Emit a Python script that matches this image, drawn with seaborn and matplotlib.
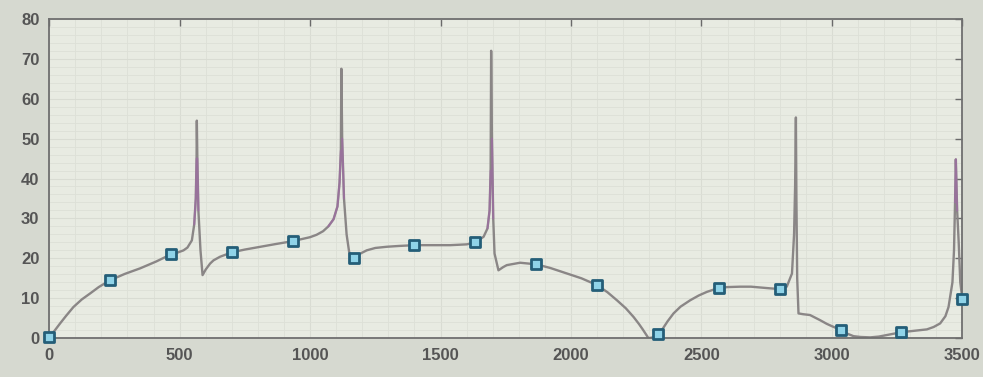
import numpy as np
import pandas as pd
import seaborn as sns
import matplotlib.pyplot as plt
from matplotlib.ticker import MultipleLocator

# curve (x, y)
curve_x = [0, 20, 42, 65, 93, 125, 157, 190, 233, 290, 349, 410, 467, 490, 515, 530,
           547, 556, 562, 565, 566,
           568, 572, 580, 588, 600, 617, 630, 655, 700, 750, 809, 870, 933, 1000,
           1025, 1050, 1070, 1090, 1105, 1113, 1118, 1120,
           1123, 1130, 1140, 1150, 1167, 1180, 1190, 1217, 1250, 1294, 1340, 1400,
           1537, 1600, 1633, 1665, 1680, 1688, 1692, 1694,
           1697, 1702, 1707, 1722, 1740, 1754, 1805, 1867, 1920, 1984, 2040, 2100,
           2140, 2176, 2210, 2240, 2260, 2275, 2285, 2297, 2315, 2333, 2350, 2370,
           2393, 2420, 2457, 2490, 2521, 2567, 2600, 2648, 2690, 2725, 2760, 2800,
           2827, 2847, 2855, 2859, 2862,
           2864, 2867, 2872, 2890, 2916, 2955, 2980, 3000, 3033, 3060, 3083, 3110,
           3147, 3180, 3211, 3240, 3267, 3310, 3364, 3390, 3415, 3435, 3447, 3462,
           3468, 3472, 3475,
           3480, 3486, 3492, 3500]
curve_y = [0.3, 1.8, 3.7, 5.6, 7.8, 9.7, 11.2, 12.8, 14.5, 16.1, 17.5, 19.2, 21.0, 21.4, 22.0, 22.7,
           24.5, 28.5, 35, 45, 54.5,
           45, 32, 22, 15.8, 17.2, 18.7, 19.5, 20.4, 21.5, 22.2, 22.9, 23.6, 24.3, 25.3,
           25.9, 26.8, 28.0, 29.8, 33, 39, 47, 67.5,
           50, 35, 26, 21.5, 20.0, 20.6, 21.1, 22.0, 22.6, 22.9, 23.1, 23.3,
           23.3, 23.5, 24.0, 25.4, 27.5, 32, 42, 72,
           50, 30, 21.2, 17.0, 17.8, 18.3, 18.9, 18.5, 17.6, 16.2, 15.0, 13.3,
           11.5, 9.5, 7.5, 5.3, 3.6, 2.2, 1.2, 0.0, 0.2, 1.0, 2.2, 4.2,
           6.2, 7.9, 9.5, 10.7, 11.6, 12.6, 12.8, 12.9, 12.9, 12.7, 12.5, 12.3,
           12.9, 16.2, 26, 38, 55.3,
           35, 15, 6.2, 6.0, 5.8, 4.5, 3.6, 3.0, 2.1, 1.1, 0.5, 0.3,
           0.2, 0.4, 0.8, 1.2, 1.5, 1.8, 2.2, 2.8, 3.7, 5.5, 7.8, 14,
           22, 34, 44.8,
           32, 24, 14, 9.8]

# sample points (squares)
marker_x = [0, 233.3, 466.7, 700, 933.3, 1166.7, 1400, 1633.3, 1866.7, 2100,
            2333.3, 2566.7, 2800, 3033.3, 3266.7, 3500]
marker_y = [0.3, 14.5, 21.0, 21.5, 24.3, 20.0, 23.3, 24.0, 18.5, 13.3,
            1.0, 12.6, 12.3, 2.1, 1.5, 9.8]

x_ticks = [0, 500, 1000, 1500, 2000, 2500, 3000, 3500]
y_ticks = [0, 10, 20, 30, 40, 50, 60, 70, 80]

fig_bg = '#d6d9d0'
ax_bg = '#e8ebe2'

sns.set_theme(style="white")
plt.rcParams['font.family'] = ['Liberation Sans', 'DejaVu Sans']

df = pd.DataFrame({'x': curve_x, 'y': curve_y})
# middle of the spike upstrokes looks purple in the picture
df['spike'] = df['y'].where((df['y'] >= 27) & (df['y'] <= 50))
df_m = pd.DataFrame({'x': marker_x, 'y': marker_y})

fig = plt.figure(figsize=(9.83, 3.77), dpi=100, facecolor=fig_bg)
ax = fig.add_axes([0.050, 0.103, 0.929, 0.847])
ax.set_facecolor(ax_bg)

sns.lineplot(data=df, x='x', y='y', sort=False, estimator=None, color='#8a8686', lw=1.7, ax=ax)
ax.plot(df['x'], df['spike'], color='#a366aa', lw=1.5, alpha=0.6)
sns.scatterplot(data=df_m, x='x', y='y', marker='s', s=55, color='#8fd3e8',
                edgecolor='#245e78', linewidth=2, zorder=5, clip_on=False, ax=ax)

ax.set_xlim(0, 3500)
ax.set_ylim(0, 80)
ax.set_xticks(x_ticks)
ax.set_yticks(y_ticks)
ax.set_xticklabels([str(t) for t in x_ticks])
ax.set_yticklabels([str(t) for t in y_ticks])
ax.set_xlabel('')
ax.set_ylabel('')

# faint minor grid like the original
ax.xaxis.set_minor_locator(MultipleLocator(100))
ax.yaxis.set_minor_locator(MultipleLocator(2))
ax.grid(which='minor', color='#dde0d7', lw=0.6)
ax.grid(which='major', color='#d9dcd3', lw=0.8)
ax.set_axisbelow(True)

ax.tick_params(which='major', direction='in', length=5, width=1, color='#6a6a6a',
               top=True, right=True, labelsize=12, labelcolor='#555555', pad=7)
ax.tick_params(which='minor', length=0)
for lab in ax.get_xticklabels() + ax.get_yticklabels():
    lab.set_fontweight('bold')
for s in ax.spines.values():
    s.set_color('#6f6f6f')
    s.set_linewidth(1.3)

plt.savefig('out.png', dpi=100, facecolor=fig_bg)
plt.close()
